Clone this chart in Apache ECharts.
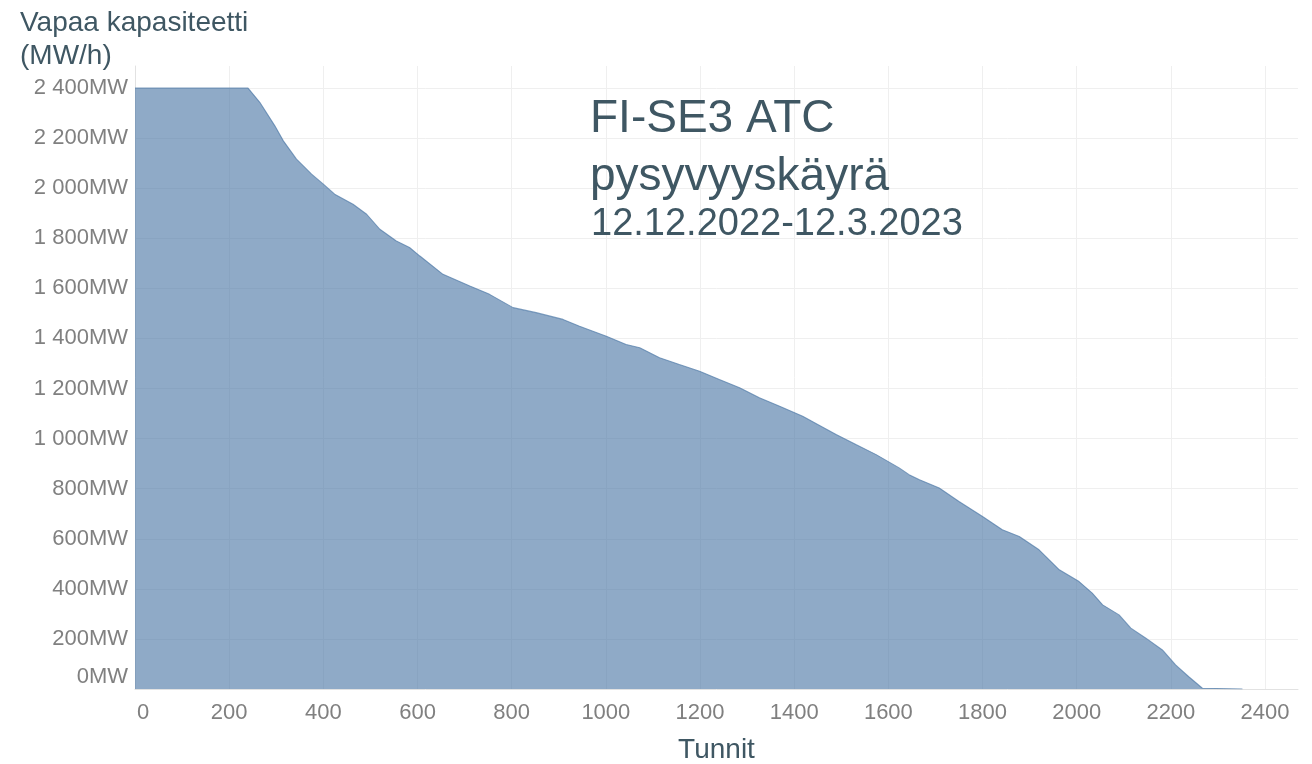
<!DOCTYPE html>
<html>
<head>
<meta charset="utf-8">
<title>FI-SE3 ATC pysyvyyskäyrä</title>
<script src="https://cdn.jsdelivr.net/npm/echarts@6/dist/echarts.min.js"></script>
<style>
  html, body { margin: 0; padding: 0; background: #fff; }
  #chart { width: 1312px; height: 764px; }
</style>
</head>
<body>
<div id="chart"></div>
<script>
// pysyvyyskäyrä: tunnit (järjestetty) ja vapaa kapasiteetti MW
const hours = [0, 240, 265, 297, 315, 343, 375, 400, 424, 463, 492, 520, 555, 583, 605, 654, 711, 753, 803, 852,
  909, 944, 1001, 1043, 1072, 1114, 1156, 1199, 1241, 1284, 1326, 1369, 1418, 1450, 1489, 1531, 1574, 1623, 1644,
  1666, 1708, 1750, 1800, 1842, 1878, 1920, 1963, 2005, 2033, 2055, 2090, 2115, 2147, 2182, 2210, 2238, 2267, 2352]
const capacityMW = [2400, 2400, 2343, 2249, 2189, 2116, 2056, 2016, 1976, 1936, 1896, 1836, 1789, 1763, 1729, 1656,
  1609, 1576, 1523, 1503, 1476, 1449, 1409, 1376, 1363, 1323, 1296, 1269, 1236, 1203, 1163, 1129, 1089, 1056, 1016,
  976, 936, 883, 856, 836, 803, 749, 689, 636, 609, 556, 476, 429, 383, 336, 296, 243, 203, 156, 96, 49, 3, 0]

// akselien tekstit
const yTickLabels = ['0MW', '200MW', '400MW', '600MW', '800MW', '1 000MW', '1 200MW', '1 400MW', '1 600MW',
  '1 800MW', '2 000MW', '2 200MW', '2 400MW']
const xTickLabels = ['0', '200', '400', '600', '800', '1000', '1200', '1400', '1600', '1800', '2000', '2200', '2400']
const titleLines = ['FI-SE3 ATC', 'pysyvyyskäyrä', '12.12.2022-12.3.2023']

const font = '"Liberation Sans", Arial, sans-serif'
const textColor = '#3f5763'
const tickColor = '#808080'

let myChart = echarts.init(document.getElementById('chart'))
let option = {
  animation: false,
  title: {
    text: 'Vapaa kapasiteetti\n(MW/h)',
    left: 15,
    top: 2,
    textStyle: { fontFamily: font, fontSize: 28, fontWeight: 'normal', color: textColor, lineHeight: 33 }
  },
  grid: { left: 135, right: 14, top: 66, bottom: 75, outerBoundsMode: 'none', containLabel: false },
  xAxis: {
    type: 'value',
    min: 0,
    max: 2470,
    interval: 200,
    name: 'Tunnit',
    nameLocation: 'middle',
    nameGap: 47,
    nameTextStyle: { fontFamily: font, fontSize: 28, color: textColor },
    axisLine: { show: true, lineStyle: { color: '#e2e2e2' } },
    axisTick: { show: false },
    splitLine: { show: true, showMinLine: false, showMaxLine: false, lineStyle: { color: '#efefef' } },
    axisLabel: {
      showMaxLabel: false,
      margin: 13,
      color: tickColor,
      fontFamily: font,
      fontSize: 22,
      formatter: function (v) {
        let i = v / 200
        if (!Number.isInteger(i) || i >= xTickLabels.length) return ''
        return i === 0 ? '{z|' + xTickLabels[i] + '}' : xTickLabels[i]
      },
      rich: { z: { padding: [0, 0, 0, 16], color: tickColor, fontFamily: font, fontSize: 22 } }
    }
  },
  yAxis: {
    type: 'value',
    min: 0,
    max: 2488,
    interval: 200,
    axisLine: { show: true, lineStyle: { color: '#e2e2e2' } },
    axisTick: { show: false },
    splitLine: { show: true, showMinLine: false, showMaxLine: false, lineStyle: { color: '#efefef' } },
    axisLabel: {
      showMaxLabel: false,
      margin: 7,
      color: tickColor,
      fontFamily: font,
      fontSize: 22,
      formatter: function (v) {
        let i = v / 200
        if (!Number.isInteger(i) || i >= yTickLabels.length) return ''
        return i === 0 ? '{z|' + yTickLabels[i] + '}' : yTickLabels[i]
      },
      rich: { z: { padding: [0, 0, 24, 0], color: tickColor, fontFamily: font, fontSize: 22 } }
    }
  },
  graphic: [
    { type: 'text', z: 100, left: 590, top: 96, style: { text: titleLines[0], font: '46px ' + font, fill: textColor } },
    { type: 'text', z: 100, left: 590, top: 154, style: { text: titleLines[1], font: '46px ' + font, fill: textColor } },
    { type: 'text', z: 100, left: 591, top: 206, style: { text: titleLines[2], font: '38px ' + font, fill: textColor } }
  ],
  series: [
    {
      type: 'line',
      symbol: 'none',
      data: hours.map((h, i) => [h, capacityMW[i]]),
      lineStyle: { color: '#4e79a7', width: 1.1, opacity: 0.7 },
      areaStyle: { color: '#4e79a7', opacity: 0.63 }
    }
  ]
}
myChart.setOption(option)
</script>
</body>
</html>
